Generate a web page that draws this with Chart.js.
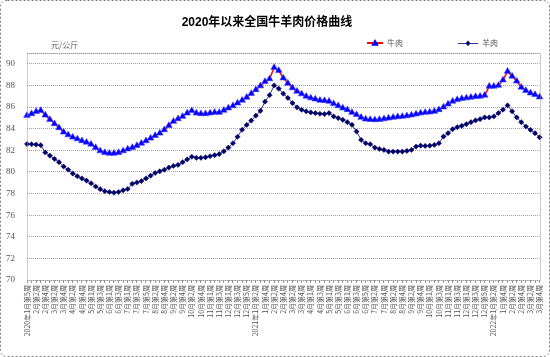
<!DOCTYPE html>
<html>
<head>
<meta charset="utf-8">
<script src="https://cdn.jsdelivr.net/npm/chart.js@4/dist/chart.umd.min.js"></script>
<style>html,body{margin:0;padding:0;background:#fff;}canvas{display:block;}</style>
</head>
<body>
<canvas id="c" width="550" height="357"></canvas>
<script>
const chartTitle = '2020年以来全国牛羊肉价格曲线';
const unitLabel = '元/公斤';
const seriesNames = ['牛肉', '羊肉'];

// [year, month, firstWeek, lastWeek] — weekly categories starting 2020年1月第5周
const weekPeriods = [
  [2020,1,5,5],[2020,2,1,4],[2020,3,1,4],[2020,4,1,5],[2020,5,1,4],[2020,6,1,4],
  [2020,7,1,5],[2020,8,1,4],[2020,9,1,4],[2020,10,1,5],[2020,11,1,4],[2020,12,1,5],
  [2021,1,1,4],[2021,2,1,4],[2021,3,1,5],[2021,4,1,4],[2021,5,1,4],[2021,6,1,5],
  [2021,7,1,4],[2021,8,1,4],[2021,9,1,5],[2021,10,1,4],[2021,11,1,4],[2021,12,1,5],
  [2022,1,1,4],[2022,2,1,4],[2022,3,1,4]
];

const beefPrices = [
  85.22,85.38,85.58,85.68,85.25,84.85,84.45,84.08,83.68,83.42,
  83.21,83.05,82.88,82.74,82.56,82.25,81.94,81.78,81.72,81.72,
  81.78,81.94,82.12,82.25,82.43,82.65,82.87,83.12,83.36,83.58,
  83.89,84.29,84.67,84.91,85.13,85.44,85.66,85.44,85.38,85.38,
  85.44,85.50,85.50,85.69,85.91,86.12,86.37,86.62,86.90,87.25,
  87.60,87.95,88.35,88.60,89.65,89.38,88.68,88.20,87.77,87.46,
  87.21,86.99,86.84,86.74,86.62,86.59,86.53,86.31,86.12,85.91,
  85.75,85.50,85.29,85.04,84.88,84.85,84.82,84.85,84.91,84.98,
  85.04,85.10,85.13,85.19,85.26,85.35,85.44,85.50,85.53,85.60,
  85.75,86.00,86.28,86.53,86.68,86.78,86.84,86.90,86.96,86.99,
  87.09,87.92,87.92,88.00,88.50,89.30,88.85,88.39,87.83,87.52,
  87.30,87.15,86.93
];

const muttonPrices = [
  82.58,82.56,82.53,82.47,81.80,81.50,81.20,80.90,80.50,80.20,
  79.85,79.60,79.40,79.20,78.95,78.65,78.40,78.22,78.14,78.08,
  78.14,78.30,78.42,78.90,79.02,79.15,79.40,79.65,79.90,80.05,
  80.20,80.40,80.55,80.65,80.90,81.15,81.40,81.30,81.30,81.35,
  81.45,81.55,81.65,81.90,82.25,82.65,83.25,83.90,84.35,84.75,
  85.20,85.65,86.50,87.10,88.00,87.70,87.24,86.84,86.37,85.97,
  85.75,85.60,85.50,85.44,85.38,85.35,85.44,85.13,84.98,84.82,
  84.60,84.36,83.74,82.96,82.65,82.56,82.25,82.12,82.03,81.88,
  81.88,81.88,81.88,81.94,82.03,82.34,82.43,82.40,82.43,82.50,
  82.65,83.27,83.58,83.95,84.14,84.26,84.42,84.60,84.76,84.88,
  85.04,85.04,85.13,85.44,85.75,86.15,85.60,85.04,84.60,84.20,
  83.89,83.58,83.20
];

const yTickValues = [70,72,74,76,78,80,82,84,86,88,90];
const yMin = 70, yMax = 91;

// Build category labels; every second week is labelled, year shown on first labelled week of a year
const weekLabels = [];
const shownLabels = [];
{
  const seenYear = {};
  weekPeriods.forEach(([y, m, w0, w1]) => {
    for (let w = w0; w <= w1; w++) {
      const idx = weekLabels.length;
      weekLabels.push(y + '年' + m + '月第' + w + '周');
      let txt = '';
      if (idx % 2 === 0) {
        txt = (seenYear[y] ? '' : y + '年') + m + '月第' + w + '周';
        seenYear[y] = true;
      }
      shownLabels.push(txt);
    }
  });
}

function makeSymbol(kind) {
  const c = document.createElement('canvas');
  c.width = 65; c.height = 10;
  const g = c.getContext('2d');
  const cy = 5;
  if (kind === 0) {
    g.strokeStyle = '#FF0000'; g.lineWidth = 2;
    g.beginPath(); g.moveTo(49, cy); g.lineTo(65, cy); g.stroke();
    g.fillStyle = '#0000FF';
    g.beginPath(); g.moveTo(57, cy - 4); g.lineTo(60.8, cy + 2.7); g.lineTo(53.2, cy + 2.7); g.closePath(); g.fill();
  } else {
    g.strokeStyle = '#333399'; g.lineWidth = 1;
    g.beginPath(); g.moveTo(45, cy + 0.5); g.lineTo(65, cy + 0.5); g.stroke();
    g.fillStyle = '#000066';
    g.beginPath(); g.moveTo(55, cy - 2.5); g.lineTo(57.5, cy + 0.5); g.lineTo(55, cy + 3); g.lineTo(52.5, cy + 0.5); g.closePath(); g.fill();
  }
  return c;
}
const legendSymbols = [makeSymbol(0), makeSymbol(1)];

const LEGEND_H = 19.6, LEGEND_DX = 308, LEGEND_DY = -4.4, TITLE_DX = -4;

const decorPlugin = {
  id: 'decor',
  beforeInit(chart) {
    const lg = chart.legend;
    if (lg && !lg._patched) {
      lg._patched = true;
      const of = lg.fit;
      lg.fit = function () { of.apply(this, arguments); this.height = LEGEND_H; };
      const od = lg.draw;
      lg.draw = function () {
        const c = this.ctx; c.save(); c.translate(LEGEND_DX, LEGEND_DY);
        od.apply(this, arguments); c.restore();
      };
    }
    const tb = chart.titleBlock;
    if (tb && !tb._patched) {
      tb._patched = true;
      const td = tb.draw;
      tb.draw = function () {
        const c = this.ctx; c.save(); c.translate(TITLE_DX, 0);
        td.apply(this, arguments); c.restore();
      };
    }
  },
  beforeDraw(chart) {
    const ctx = chart.ctx;
    ctx.save();
    ctx.fillStyle = '#fff';
    ctx.fillRect(0, 0, chart.width, chart.height);
    ctx.restore();
  },
  afterDraw(chart) {
    const ctx = chart.ctx;
    const a = chart.chartArea;
    ctx.save();
    ctx.strokeStyle = '#999';
    ctx.lineWidth = 1;
    ctx.setLineDash([1, 1]);
    ctx.strokeRect(Math.round(a.left) + 0.5, Math.round(a.top) + 0.5,
      Math.round(a.right - a.left), Math.round(a.bottom - a.top));
    ctx.setLineDash([2, 2]);
    ctx.strokeStyle = '#808080';
    const r = 7, x0 = 0.5, y0 = 0.5, x1 = chart.width - 0.5, y1 = chart.height - 0.5;
    ctx.beginPath();
    ctx.moveTo(x0 + r, y0); ctx.lineTo(x1 - r, y0); ctx.quadraticCurveTo(x1, y0, x1, y0 + r);
    ctx.lineTo(x1, y1 - r); ctx.quadraticCurveTo(x1, y1, x1 - r, y1);
    ctx.lineTo(x0 + r, y1); ctx.quadraticCurveTo(x0, y1, x0, y1 - r);
    ctx.lineTo(x0, y0 + r); ctx.quadraticCurveTo(x0, y0, x0 + r, y0);
    ctx.stroke();
    ctx.setLineDash([]);
    ctx.fillStyle = '#555';
    ctx.font = '8px "Noto Sans CJK SC"';
    ctx.textBaseline = 'middle';
    ctx.textAlign = 'left';
    ctx.fillText(unitLabel, 51, 45);
    ctx.restore();
  }
};

new Chart(document.getElementById('c'), {
  type: 'line',
  data: {
    labels: weekLabels,
    datasets: [
      {
        label: seriesNames[0],
        data: beefPrices,
        borderColor: '#FF0000',
        borderWidth: 1.5,
        pointStyle: 'triangle',
        pointRadius: 3.8,
        pointBorderWidth: 1,
        pointBackgroundColor: '#0000FF',
        pointBorderColor: 'rgba(60,60,255,0.6)',
        tension: 0,
        fill: false
      },
      {
        label: seriesNames[1],
        data: muttonPrices,
        borderColor: '#333399',
        borderWidth: 1,
        pointStyle: 'rectRot',
        pointRadius: 2.6,
        pointBorderWidth: 0.5,
        pointBackgroundColor: '#000066',
        pointBorderColor: '#000066',
        tension: 0,
        fill: false
      }
    ]
  },
  options: {
    responsive: false,
    animation: false,
    devicePixelRatio: 1,
    layout: { padding: { left: 0, right: 8, top: 0, bottom: 0 } },
    plugins: {
      tooltip: { enabled: false },
      title: {
        display: true,
        text: chartTitle,
        color: '#000',
        font: { family: "'Liberation Sans','Noto Sans CJK SC'", size: 12, weight: 'bold' },
        padding: { top: 15, bottom: 4 }
      },
      legend: {
        display: true,
        position: 'top',
        align: 'start',
        labels: {
          usePointStyle: true,
          pointStyleWidth: 65,
          padding: 10,
          color: '#555',
          font: { family: "'Noto Sans CJK SC'", size: 8 },
          generateLabels(chart) {
            return chart.data.datasets.map((ds, i) => ({
              text: ds.label,
              pointStyle: legendSymbols[i],
              fillStyle: 'rgba(0,0,0,0)',
              strokeStyle: 'rgba(0,0,0,0)',
              lineWidth: 0,
              hidden: false,
              datasetIndex: i,
              fontColor: '#555'
            }));
          }
        }
      }
    },
    scales: {
      x: {
        type: 'category',
        offset: false,
        border: { display: false },
        grid: { display: true, drawOnChartArea: false, drawTicks: true, tickLength: 3, tickColor: '#999', color: '#999' },
        ticks: {
          autoSkip: false,
          minRotation: 90,
          maxRotation: 90,
          padding: 2,
          color: '#555',
          font: { family: "'Noto Sans CJK SC'", size: 7 },
          callback(value, index) { return shownLabels[index]; }
        },
        afterFit(scale) { scale.height = 77; }
      },
      y: {
        min: yMin,
        max: yMax,
        border: { display: false, dash: [1, 1] },
        grid: { color: '#a0a0a0', drawTicks: false, tickLength: 0 },
        afterBuildTicks(scale) {
          scale.ticks = yTickValues.concat([yMax]).map(v => ({ value: v }));
        },
        ticks: {
          padding: 12,
          color: '#555',
          font: { family: "'Liberation Serif'", size: 9 },
          callback(value) { return yTickValues.includes(value) ? String(value) : ''; }
        },
        afterFit(scale) { scale.width = 27; }
      }
    }
  },
  plugins: [decorPlugin]
});
</script>
</body>
</html>
